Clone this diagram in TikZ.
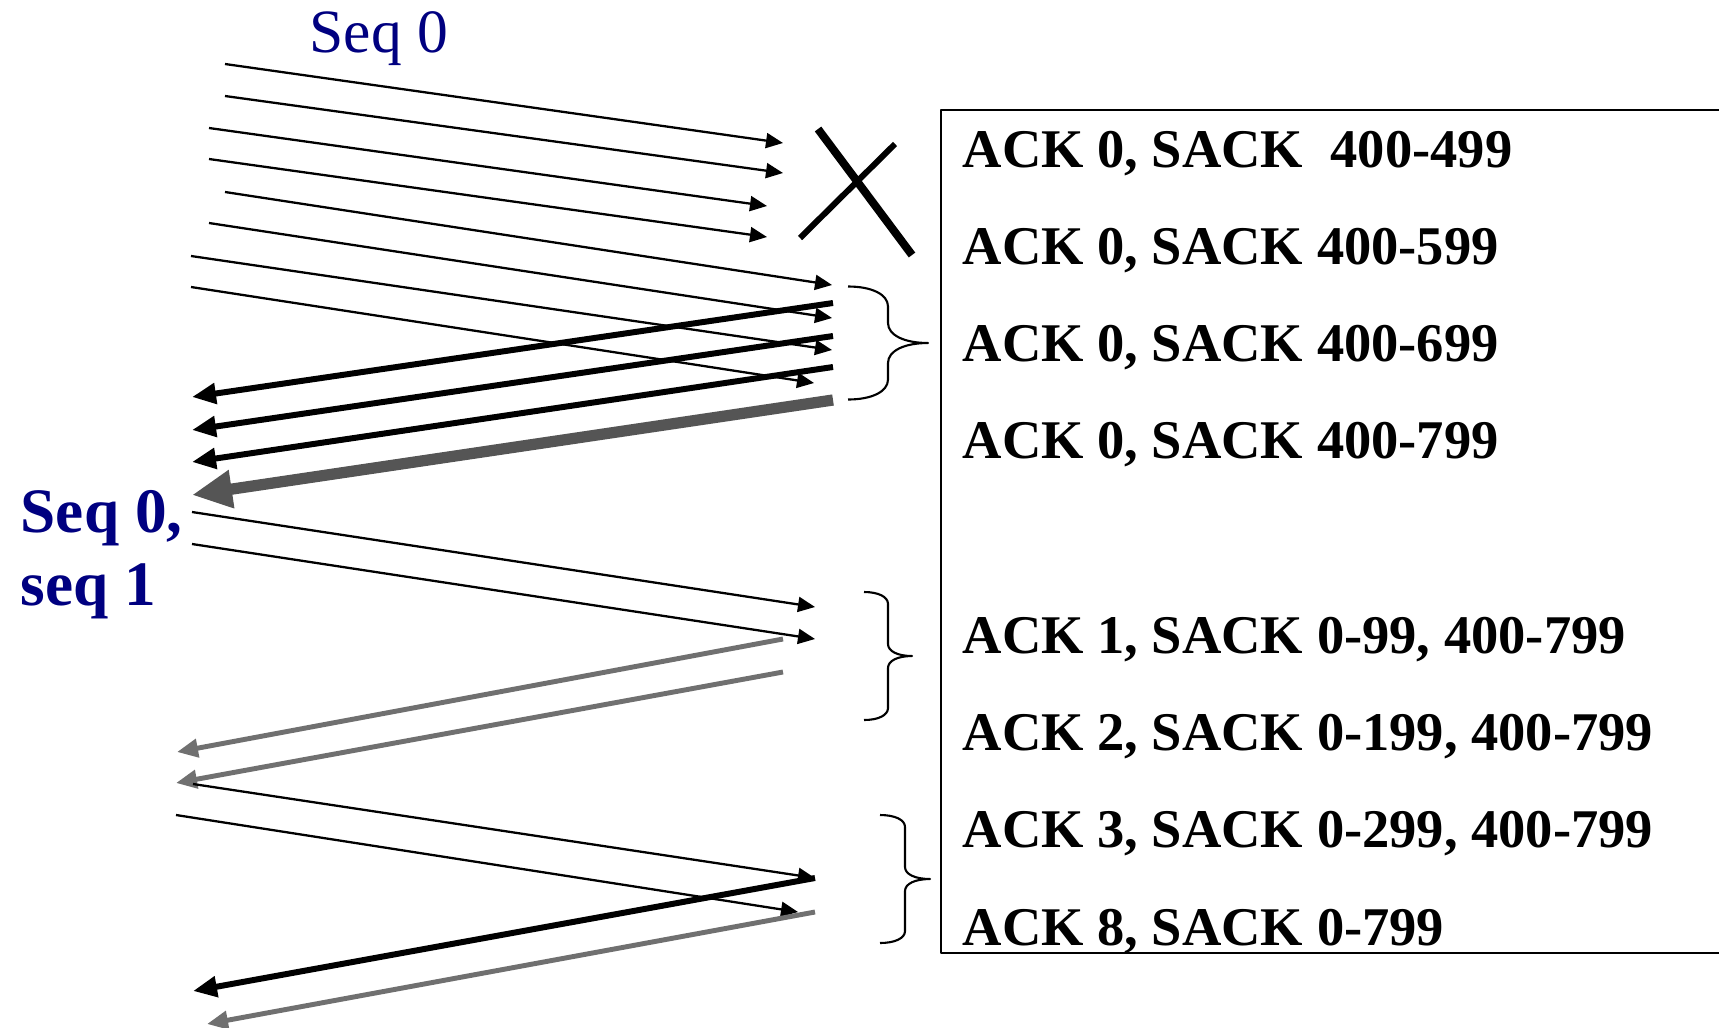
\documentclass[tikz,border=0pt]{standalone}
\usepackage{fontspec}
\setmainfont{Liberation Serif}
\usetikzlibrary{arrows.meta,positioning}
\definecolor{seqblue}{RGB}{0,0,128}
\definecolor{ackgray}{RGB}{85,85,85}
\definecolor{retgray}{RGB}{112,112,112}
\tikzset{
  data/.style={->,line width=0.65pt,>={Triangle[length=0.17cm,width=0.15cm]}},
  ack/.style={->,line width=1.7pt,>={Triangle[length=0.24cm,width=0.2cm]}},
  bigack/.style={->,line width=3.2pt,draw=ackgray,>={Triangle[length=0.4cm,width=0.36cm]}},
  retack/.style={->,line width=1.4pt,draw=retgray,>={Triangle[length=0.21cm,width=0.18cm]}},
  ackline/.style={anchor=base west,inner sep=0pt,font=\fontsize{15.5}{18}\selectfont\bfseries},
  seqlabel/.style={anchor=base west,inner sep=0pt,text=seqblue},
  % #1 half height, #2 depth, #3 curl
  pics/ackbrace/.style args={#1/#2/#3}{code={
    \draw[line width=0.6pt] (0,{-#1}) .. controls ({0.3*#2},{-#1}) and ({0.5*#2},{-#1+0.4*#3}) .. ({0.5*#2},{-#1+#3})
      -- ({0.5*#2},{-#3}) .. controls ({0.5*#2},{-0.4*#3}) and ({0.7*#2},0) .. (#2,0)
      .. controls ({0.7*#2},0) and ({0.5*#2},{0.4*#3}) .. ({0.5*#2},#3)
      -- ({0.5*#2},{#1-#3}) .. controls ({0.5*#2},{#1-0.4*#3}) and ({0.3*#2},#1) .. (0,#1);
  }}
}
\begin{document}
\begin{tikzpicture}[x=0.01cm,y=-0.01cm,line join=round]
\useasboundingbox (0,0) rectangle (1719,1027);
% sender labels
\node[seqlabel,font=\fontsize{17.5}{21}\selectfont] (seq0) at (309,52) {Seq 0};
\node[seqlabel,font=\fontsize{18}{21}\selectfont\bfseries] (seqa) at (20,532) {Seq 0,};
\node[seqlabel,font=\fontsize{18}{21}\selectfont\bfseries] (seqb) at (20,605) {seq 1};

% receiver box
\draw[line width=0.6pt] (1719,110) -- (941,110) -- (941,953) -- (1719,953);
\foreach \k/\txt in {0/{ACK 0, SACK\ \ 400-499},1/{ACK 0, SACK 400-599},2/{ACK 0, SACK 400-699},3/{ACK 0, SACK 400-799},
  5/{ACK 1, SACK 0-99, 400-799},6/{ACK 2, SACK 0-199, 400-799},7/{ACK 3, SACK 0-299, 400-799},8/{ACK 8, SACK 0-799}}
  \node[ackline] (ack\k) at (962,{167+97.25*\k}) {\txt};

% first window
\foreach \n/\xa/\ya/\xb/\yb in {1/225/64/783/143,2/225/96/783/173,3/209/128/767/206,4/209/159/767/237,
  5/225/192/832/285,6/209/223/832/318,7/191/256/832/350,8/191/287/814/383}{
  \coordinate (s\n) at (\xa,\ya);
  \coordinate (r\n) at (\xb,\yb);
  \draw[data] (s\n) -- (r\n);
}
\draw[line width=2.3pt] (818,129) -- (912,255);
\draw[line width=1.7pt] (895,144) -- (800,238);
\foreach \n/\ya/\yb in {1/303/397,2/336/430,3/367/462}{
  \coordinate (q\n) at (833,\ya);
  \coordinate (p\n) at (192,\yb);
  \draw[ack] (q\n) -- (p\n);
}
\coordinate (q4) at (833,400);
\coordinate (p4) at (192,495);
\draw[bigack] (q4) -- (p4);
\pic (bra) at (848,343) {ackbrace=56.5/80/20};

% retransmissions
\coordinate (s9) at (192,512);  \coordinate (r9) at (815,607);
\coordinate (s10) at (192,544); \coordinate (r10) at (815,639);
\draw[data] (s9) -- (r9);
\draw[data] (s10) -- (r10);
\coordinate (q5) at (783,639);  \coordinate (p5) at (177,752);
\coordinate (q6) at (783,672);  \coordinate (p6) at (176,783);
\draw[retack] (q5) -- (p5);
\draw[retack] (q6) -- (p6);
\pic (brb) at (864,656) {ackbrace=64/48/12};

\coordinate (s11) at (193,784); \coordinate (r11) at (815,878);
\coordinate (s12) at (176,815); \coordinate (r12) at (798,912);
\draw[data] (s11) -- (r11);
\draw[data] (s12) -- (r12);
\coordinate (q7) at (815,878);  \coordinate (p7) at (193,991);
\coordinate (q8) at (815,912);  \coordinate (p8) at (207,1024);
\draw[ack] (q7) -- (p7);
\draw[retack] (q8) -- (p8);
\pic (brc) at (880,879) {ackbrace=64/50/12};
\end{tikzpicture}
\end{document}
